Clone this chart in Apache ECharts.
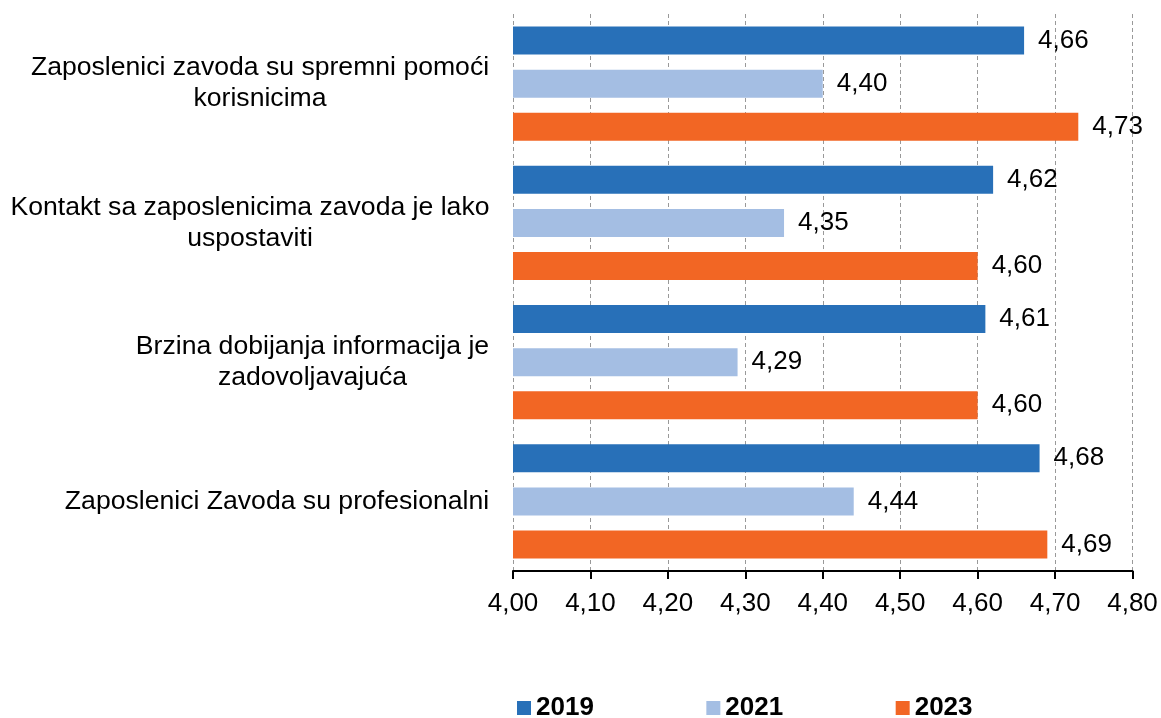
<!DOCTYPE html>
<html>
<head>
<meta charset="utf-8">
<script src="https://cdn.jsdelivr.net/npm/echarts@6/dist/echarts.min.js"></script>
<style>
html,body{margin:0;padding:0;background:#fff;}
#chart{width:1161px;height:718px;}
</style>
</head>
<body>
<div id="chart"></div>
<script>
const categories = [
  "Zaposlenici zavoda su spremni pomoći\nkorisnicima",
  "Kontakt sa zaposlenicima zavoda je lako\nuspostaviti",
  "Brzina dobijanja informacija je\nzadovoljavajuća",
  "Zaposlenici Zavoda su profesionalni"
];
const seriesNames = ["2019", "2021", "2023"];
const values2019 = [4.66, 4.62, 4.61, 4.68];
const values2021 = [4.40, 4.35, 4.29, 4.44];
const values2023 = [4.73, 4.60, 4.60, 4.69];
const xMin = 4.0, xMax = 4.8, xInterval = 0.1;

const FONT = '"Liberation Sans", Arial, sans-serif';
const FS = 26;
const CFS = 26.6;
const colors = ["#2870B8", "#A4BEE3", "#F26624"];

const ctx = document.createElement('canvas').getContext('2d');
ctx.font = CFS + 'px ' + FONT;
const rich = {};
categories.forEach((c, i) => {
  const w = Math.max(...c.split('\n').map(l => ctx.measureText(l).width));
  rich['c' + i] = {width: Math.ceil(w) + 1, align: 'center', fontSize: CFS, fontFamily: FONT, color: '#000', lineHeight: 31};
});

const fmt = v => v.toFixed(2).replace('.', ',');
const allValues = [values2019, values2021, values2023];

const chart = echarts.init(document.getElementById('chart'), null, {renderer: 'canvas'});
chart.setOption({
  animation: false,
  grid: {left: 513, right: 28.5, top: 14, bottom: 147, containLabel: false},
  legend: {
    data: seriesNames,
    left: 517, top: 695, padding: 0,
    itemWidth: 14, itemHeight: 14, itemGap: 112.5,
    icon: 'rect',
    textStyle: {fontFamily: FONT, fontSize: FS, fontWeight: 'bold', color: '#000'}
  },
  xAxis: {
    type: 'value', min: xMin, max: xMax, interval: xInterval,
    axisLine: {show: true, lineStyle: {color: '#000', width: 2}},
    axisTick: {show: true, length: 8, lineStyle: {color: '#000', width: 2}},
    axisLabel: {formatter: v => fmt(v), fontFamily: FONT, fontSize: FS, color: '#000', margin: 20},
    splitLine: {show: true, lineStyle: {color: '#999', type: [4, 3], width: 1}}
  },
  yAxis: {
    type: 'category', data: categories, inverse: true,
    axisLine: {show: false}, axisTick: {show: false},
    axisLabel: {
      margin: 23,
      formatter: (v, i) => '{c' + i + '|' + v + '}',
      rich: rich
    }
  },
  series: seriesNames.map((n, k) => ({
    name: n, type: 'bar', data: allValues[k],
    barWidth: 28, barGap: '54%',
    itemStyle: {color: colors[k]},
    label: {show: true, position: 'right', distance: 14, formatter: p => fmt(p.value), fontFamily: FONT, fontSize: FS, color: '#000'}
  }))
});
</script>
</body>
</html>
